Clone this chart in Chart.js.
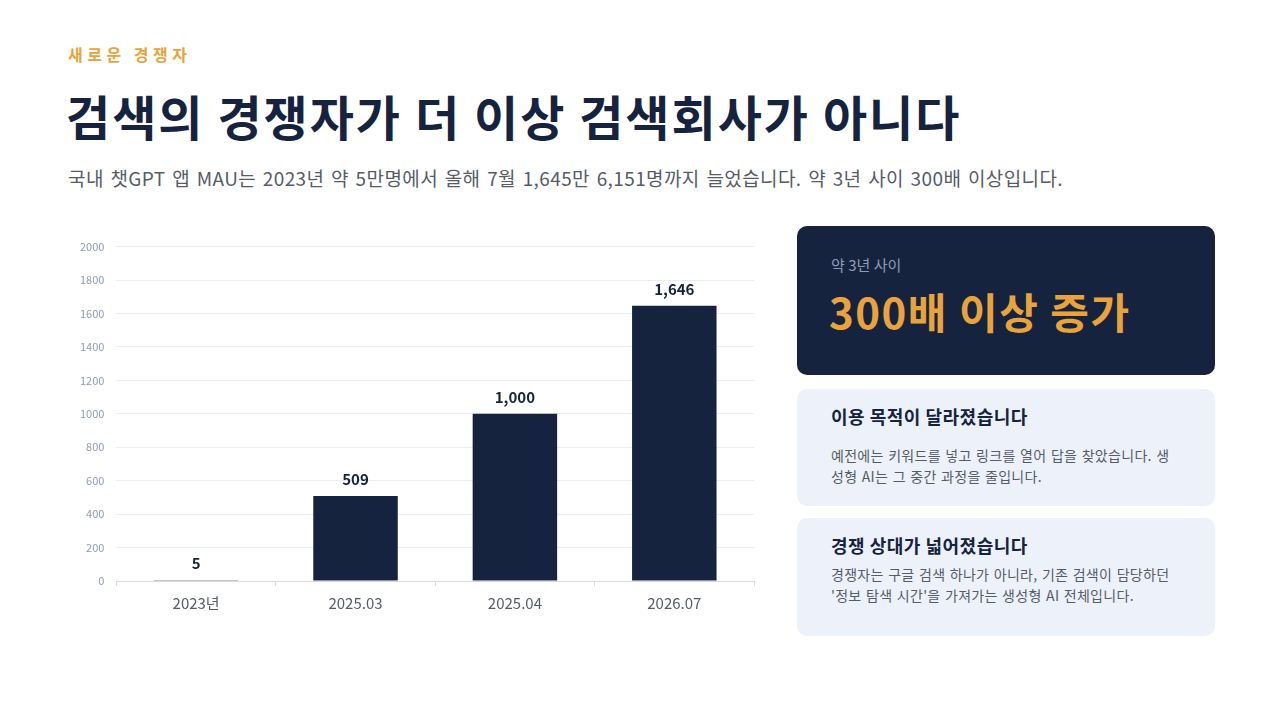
<!DOCTYPE html>
<html><head><meta charset="utf-8">
<script src="https://cdn.jsdelivr.net/npm/chart.js@4"></script>
<style>
body{margin:0;width:1280px;height:720px;background:#fff;font-family:"Noto Sans CJK KR","Noto Sans",sans-serif;position:relative;overflow:hidden;color:#16233f}
.abs{position:absolute}
.kicker{left:68px;top:42px;font-size:16px;font-weight:700;color:#e8a33c;letter-spacing:4.5px}
.title{left:66px;top:80px;font-size:48px;font-weight:700;letter-spacing:2px}
.sub{left:68px;top:164px;font-size:19px;color:#555c68;letter-spacing:0.4px;word-spacing:2px}
.dark{left:797px;top:226px;width:418px;height:149px;background:#16233f;border-radius:10px}
.dark .s{position:absolute;left:34px;top:28px;font-size:15px;color:#8f9bb3}
.dark .b{position:absolute;left:32px;top:54px;font-size:42px;font-weight:700;color:#e8a33c;letter-spacing:1.5px}
.card{left:797px;width:418px;background:#edf2fa;border-radius:10px}
.card h3{margin:0;position:absolute;left:34px;font-size:18px;font-weight:700;letter-spacing:0.5px}
.card p{margin:0;position:absolute;left:34px;width:345px;font-size:14px;line-height:21px;color:#555c68;word-break:break-all;letter-spacing:0.3px;word-spacing:1px}
#wrap{left:68px;top:228px;width:692px;height:392px}
</style></head><body>
<div class="abs kicker">새로운 경쟁자</div>
<div class="abs title">검색의 경쟁자가 더 이상 검색회사가 아니다</div>
<div class="abs sub">국내 챗GPT 앱 MAU는 2023년 약 5만명에서 올해 7월 1,645만 6,151명까지 늘었습니다. 약 3년 사이 300배 이상입니다.</div>
<div class="abs dark"><div class="s">약 3년 사이</div><div class="b">300배 이상 증가</div></div>
<div class="abs card" style="top:389px;height:117px"><h3 style="top:14px">이용 목적이 달라졌습니다</h3><p style="top:56px">예전에는 키워드를 넣고 링크를 열어 답을 찾았습니다. 생성형 AI는 그 중간 과정을 줄입니다.</p></div>
<div class="abs card" style="top:518px;height:118px"><h3 style="top:14px">경쟁 상대가 넓어졌습니다</h3><p style="top:46px">경쟁자는 구글 검색 하나가 아니라, 기존 검색이 담당하던 '정보 탐색 시간'을 가져가는 생성형 AI 전체입니다.</p></div>
<div class="abs" id="wrap"><canvas id="c"></canvas></div>
<script>
const categories = ['2023년', '2025.03', '2025.04', '2026.07'];
const mau = [5, 509, 1000, 1646];
const valueLabels = ['5', '509', '1,000', '1,646'];

Chart.defaults.font.family = "'Noto Sans CJK KR', 'Noto Sans', sans-serif";

const labelPlugin = {
  id: 'vlabels',
  afterDatasetsDraw(chart) {
    const ctx = chart.ctx;
    ctx.save();
    ctx.font = "700 15px 'Noto Sans CJK KR'";
    ctx.fillStyle = '#16233f';
    ctx.textAlign = 'center';
    ctx.textBaseline = 'bottom';
    chart.getDatasetMeta(0).data.forEach(function(bar, i) {
      ctx.fillText(valueLabels[i], bar.x, bar.y - 9);
    });
    ctx.restore();
  }
};

new Chart(document.getElementById('c'), {
  type: 'bar',
  data: { labels: categories, datasets: [{ data: mau, backgroundColor: '#16233f', categoryPercentage: 0.53, barPercentage: 1 }] },
  options: {
    responsive: true, maintainAspectRatio: false, animation: false,
    layout: { padding: { top: 8, right: 6 } },
    plugins: { legend: { display: false }, tooltip: { enabled: false } },
    scales: {
      y: { min: 0, max: 2000,
           ticks: { stepSize: 200, color: '#8f9bb3', font: { size: 11 }, padding: 12, callback: function(v) { return String(v); } },
           grid: { color: '#e9ecf1', drawTicks: false }, border: { display: false } },
      x: { ticks: { color: '#555c68', font: { size: 15 }, padding: 8 },
           grid: { display: true, drawOnChartArea: false, color: '#d5dae3', tickLength: 5 }, border: { color: '#d5dae3' } }
    }
  },
  plugins: [labelPlugin]
});
</script>
</body></html>
